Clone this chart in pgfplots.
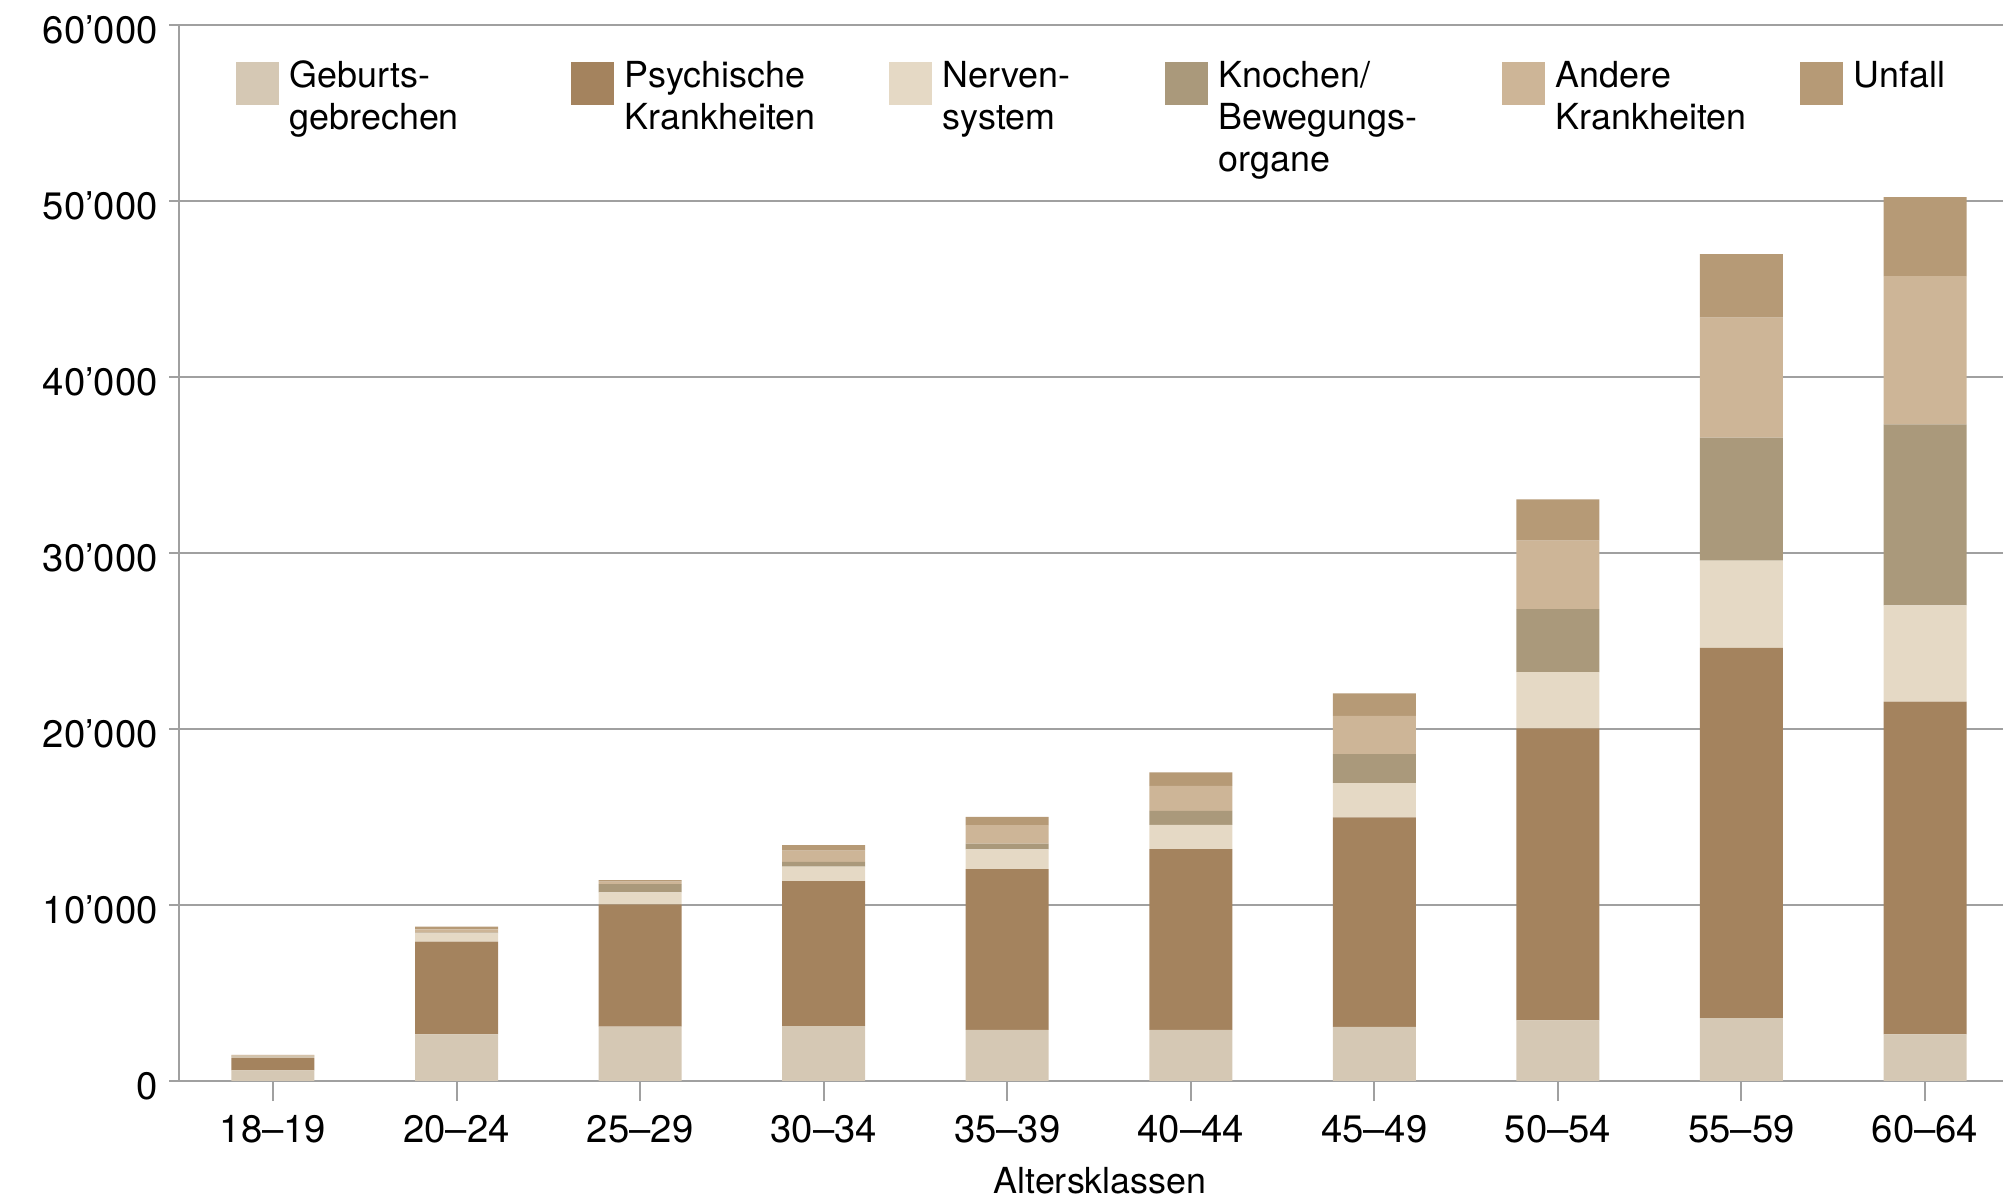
\documentclass[border=0pt]{standalone}
\usepackage{fontspec}
\setmainfont{TeX Gyre Heros}
\usepackage{pgfplots}
\usepackage{pgfplotstable}
\pgfplotsset{compat=1.18}
\definecolor{cG}{HTML}{D5C8B4}
\definecolor{cP}{HTML}{A4835E}
\definecolor{cN}{HTML}{E5D9C5}
\definecolor{cK}{HTML}{AA997B}
\definecolor{cA}{HTML}{CDB597}
\definecolor{cU}{HTML}{B69A76}
\definecolor{gridgray}{HTML}{A0A0A0}
\pgfplotstableread{
x G P N K A U
0 600 730 60 20 50 30
1 2650 5270 470 50 180 150
2 3090 6950 680 470 140 90
3 3125 8235 820 270 640 320
4 2900 9140 1120 340 1040 470
5 2900 10280 1380 800 1420 760
6 3070 11910 1950 1650 2180 1270
7 3440 16600 3200 3590 3890 2340
8 3580 21040 4960 6990 6820 3610
9 2650 18910 5470 10300 8430 4480
}\data
\pgfplotsset{myleg/.style={legend image code/.code={\fill[##1] (0bp,-6.95bp) rectangle (10.8bp,3.85bp);}}}
\begin{document}
\begin{tikzpicture}
\useasboundingbox (-44.75bp,-28.5bp) rectangle (456bp,270.25bp);
\begin{axis}[
  at={(0,0)}, anchor=south west,
  scale only axis, width=456bp, height=263.875bp,
  ybar stacked, bar width=0.452,
  xmin=-0.512, xmax=9.425, ymin=0, ymax=60000,
  xtick={0,...,9},
  xticklabels={18–19,20–24,25–29,30–34,35–39,40–44,45–49,50–54,55–59,60–64},
  ytick={0,10000,20000,30000,40000,50000,60000},
  yticklabels={0,10’000,20’000,30’000,40’000,50’000,60’000},
  axis x line*=bottom, axis y line*=left,
  ymajorgrids, grid style={color=gridgray, line width=0.5bp},
  axis line style={gridgray, line width=0.5bp},
  x axis line style={line width=0.7bp},
  tick align=outside, major tick length=5bp,
  tick style={gridgray, line width=0.5bp},
  ytick style={/pgfplots/major tick length=2.5bp},
  tick label style={font=\fontsize{9.6}{11}\selectfont},
  yticklabel style={xshift=3.2bp, yshift=-1.2bp},
  xlabel={Altersklassen},
  xlabel style={font=\fontsize{9}{11}\selectfont, at={(axis description cs:0.505,0)}, anchor=base, yshift=-28bp},
  legend columns=6,
  legend cell align=left,
  legend style={draw=none, fill=none, at={(axis description cs:0.0307,0.967)}, anchor=north west,
    inner sep=0pt, column sep=0pt,
    nodes={inner sep=0pt, font=\fontsize{9}{10.5}\selectfont},
    /tikz/every odd column/.append style={column sep=2.7bp}},
]
\addplot[fill=cG, draw=none, myleg] table[x=x,y=G]{\data};
\addlegendentry{\parbox[t]{70.25bp}{\raggedright Geburts-\\gebrechen}}
\addplot[fill=cP, draw=none, myleg] table[x=x,y=P]{\data};
\addlegendentry{\parbox[t]{66bp}{\raggedright Psychische\\Krankheiten}}
\addplot[fill=cN, draw=none, myleg] table[x=x,y=N]{\data};
\addlegendentry{\parbox[t]{55.5bp}{\raggedright Nerven-\\system}}
\addplot[fill=cK, draw=none, myleg] table[x=x,y=K]{\data};
\addlegendentry{\parbox[t]{70.75bp}{\raggedright Knochen/\\Bewegungs-\\organe}}
\addplot[fill=cA, draw=none, myleg] table[x=x,y=A]{\data};
\addlegendentry{\parbox[t]{61bp}{\raggedright Andere\\Krankheiten}}
\addplot[fill=cU, draw=none, myleg] table[x=x,y=U]{\data};
\addlegendentry{\parbox[t]{40bp}{\raggedright Unfall}}
\end{axis}
\end{tikzpicture}
\end{document}
